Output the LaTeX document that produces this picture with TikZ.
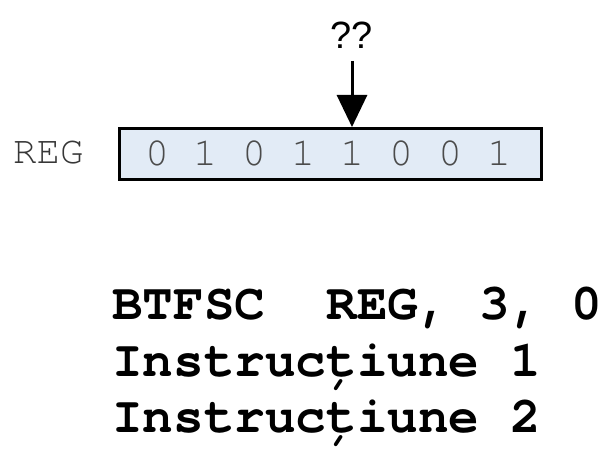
\documentclass[tikz,border=0pt]{standalone}
\usepackage{fontspec}
\setmainfont{Liberation Sans}
\newfontfamily\codefont{TeX Gyre Cursor}
\usetikzlibrary{arrows.meta}
\definecolor{regfill}{RGB}{226,235,246}
\definecolor{bitgray}{RGB}{75,75,75}
\definecolor{reggray}{RGB}{55,55,55}
\tikzset{
  bitnum/.style={font=\codefont\fontsize{40}{40}\selectfont, text=bitgray, inner sep=0pt, anchor=base},
  codeline/.style={font=\codefont\bfseries\fontsize{51}{51}\selectfont, inner sep=0pt, anchor=base west},
  regbox/.style={draw=black, line width=3pt, fill=regfill},
  pointer/.style={line width=3pt, -{Triangle[width=30pt,length=32pt]}}
}
\begin{document}
\begin{tikzpicture}[x=1pt,y=-1pt]
\useasboundingbox (0,0) rectangle (608,452);
\node[regbox, minimum width=422pt, minimum height=51pt, inner sep=0pt, anchor=north west] (box) at (118,127) {};
\node[font=\codefont\fontsize{39}{39}\selectfont, text=reggray, inner sep=0pt, anchor=base west] (reg) at (13,163) {REG};
\foreach \i/\b/\x in {7/0/157,6/1/205,5/0/254,4/1/303,3/1/352,2/0/401,1/0/450,0/1/499}{
  \node[bitnum] (b\i) at (\x,165) {\b};
}
\node[font=\fontsize{38}{38}\selectfont, inner sep=0pt] (qq) at (352,35) {??};
\coordinate (astart) at (352,61);
\draw[pointer] (astart) -- (b3 |- box.north);
\node[codeline] (l1) at (112,319) {BTFSC\ \ REG,\ 3,\ 0};
\node[codeline] (l2) at (112,376) {Instrucțiune 1};
\node[codeline] (l3) at (112,432) {Instrucțiune 2};
\end{tikzpicture}
\end{document}
